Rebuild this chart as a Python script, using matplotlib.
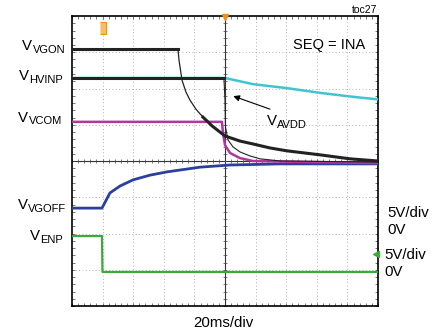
import numpy as np
import matplotlib.pyplot as plt

plt.rcParams['font.family'] = ['Liberation Sans', 'DejaVu Sans']

# scope traces: time in ms, level in screen divisions (0 = bottom graticule line)
vgon_t = [0, 69.3, 69.9, 71.9, 74.5, 77.1, 81.0, 85.6, 91.5, 100, 109.8, 118.3, 129.4, 140.5, 162.1, 181.7, 200]
vgon_v = [7.08, 7.08, 6.79, 6.23, 5.90, 5.68, 5.43, 5.21, 4.97, 4.69, 4.55, 4.47, 4.36, 4.28, 4.17, 4.06, 4.00]

hvinp_t = [0, 99.3, 100, 100.3, 102, 105.2, 109.8, 116.3, 122.9, 136, 200]
hvinp_v = [6.29, 6.29, 5.68, 4.94, 4.58, 4.39, 4.25, 4.14, 4.06, 4.00, 3.97]

avdd_t = [0, 100, 118.3, 140.5, 162.1, 183.7, 200]
avdd_v = [6.29, 6.29, 6.12, 6.01, 5.88, 5.77, 5.70]

vcom_t = [0, 98.0, 98.7, 100, 103.3, 109.8, 118.3, 200]
vcom_v = [5.08, 5.08, 4.77, 4.44, 4.22, 4.08, 4.00, 3.94]

vgoff_t = [0, 19.6, 24.8, 31.4, 39.9, 51.0, 62.1, 83.7, 103.3, 136, 200]
vgoff_v = [2.70, 2.70, 3.12, 3.31, 3.48, 3.61, 3.70, 3.83, 3.89, 3.92, 3.92]

enp_t = [0, 19.6, 19.9, 200]
enp_v = [1.93, 1.93, 0.94, 0.94]

W, H = 445, 332


def px(x, y):
    # pixel position (from top-left) -> figure fraction
    return x / W, 1 - y / H


fig = plt.figure(figsize=(W / 100, H / 100), dpi=100)
ax = fig.add_axes([72 / W, (H - 306) / H, 306 / W, 290 / H])
ax.set_xlim(0, 200)
ax.set_ylim(0, 8)

# graticule
for gx in range(20, 200, 20):
    if gx != 100:
        ax.axvline(gx, color='#999999', lw=0.6, ls=(0, (1, 3)), zorder=1)
for gy in range(1, 8):
    if gy != 4:
        ax.axhline(gy, color='#999999', lw=0.6, ls=(0, (1, 3)), zorder=1)
ax.axhline(4, color='#333333', lw=0.8, zorder=1)
ax.axvline(100, color='#333333', lw=0.8, zorder=1)
ticks_x = np.arange(0, 200.1, 4)
ticks_y = np.arange(0, 8.01, 0.2)
ax.plot(ticks_x, np.full_like(ticks_x, 4), ls='none', marker='|', ms=3.5, mew=0.5, color='#444444', zorder=1)
ax.plot(np.full_like(ticks_y, 100), ticks_y, ls='none', marker='_', ms=3.5, mew=0.5, color='#444444', zorder=1)

ax.set_xticks(ticks_x)
ax.set_yticks(ticks_y)
ax.tick_params(direction='in', length=2.2, width=0.5, color='#444444', top=True, right=True,
               labelbottom=False, labelleft=False)
for s in ax.spines.values():
    s.set_linewidth(1.2)

# traces
ax.plot(enp_t, enp_v, color='#3aab3a', lw=1.6, zorder=3)
ax.plot(vgoff_t, vgoff_v, color='#2b3f9e', lw=2.0, zorder=3)
ax.plot(avdd_t, avdd_v, color='#40c4d2', lw=1.8, zorder=3)
ax.plot(vcom_t, vcom_v, color='#b0379e', lw=1.8, zorder=4)
ax.plot(hvinp_t[:2], hvinp_v[:2], color='#222222', lw=2.2, zorder=5)
ax.plot(hvinp_t[1:], hvinp_v[1:], color='#222222', lw=0.8, zorder=5)
ax.plot(vgon_t[:2], vgon_v[:2], color='#222222', lw=2.2, zorder=5)
ax.plot(vgon_t[1:9], vgon_v[1:9], color='#222222', lw=0.9, zorder=5)
ax.plot(vgon_t[7:], vgon_v[7:], color='#222222', lw=2.2, zorder=5)

# trigger / ground markers
rect = [(-0.5, -1), (0.5, -1), (0.5, 1), (-0.5, 1)]
ax.plot([20], [7.67], marker=rect, ms=8.5, mfc='#fbbd62', mec='#f0901a', mew=0.8, clip_on=False, zorder=6)
ax.plot([100], [7.97], marker='v', ms=4, color='#f0901a', clip_on=False, zorder=6)
ax.plot([198.5], [1.43], marker='<', ms=4.5, color='#3aab3a', clip_on=False, zorder=6)

ax.annotate('', xy=(105.4, 5.79), xytext=(129.4, 5.43),
            arrowprops=dict(arrowstyle='-|>', color='k', lw=0.8, mutation_scale=9,
                            shrinkA=0, shrinkB=0), zorder=6)


def vlabel(x, y, sub):
    fig.text(*px(x, y), 'V', fontsize=10.8, va='baseline', ha='left')
    fig.text(*px(x + 10.3, y + 2.7), sub, fontsize=8, va='baseline', ha='left')


vlabel(22.3, 50, 'VGON')
vlabel(19, 80, 'HVINP')
vlabel(18.3, 121.7, 'VCOM')
vlabel(17.7, 209, 'VGOFF')
vlabel(30, 240, 'ENP')
vlabel(266.7, 125, 'AVDD')

fig.text(*px(352, 13), 'toc27', fontsize=7.5, va='baseline')
fig.text(*px(293, 49), 'SEQ = INA', fontsize=10.5, va='baseline')
fig.text(*px(387, 217), '5V/div', fontsize=10.8, va='baseline')
fig.text(*px(387, 234), '0V', fontsize=10.8, va='baseline')
fig.text(*px(384, 259), '5V/div', fontsize=10.8, va='baseline')
fig.text(*px(384, 276), '0V', fontsize=10.8, va='baseline')
fig.text(*px(223, 327), '20ms/div', fontsize=10.8, va='baseline', ha='center')

fig.savefig('out.png', dpi=100)
